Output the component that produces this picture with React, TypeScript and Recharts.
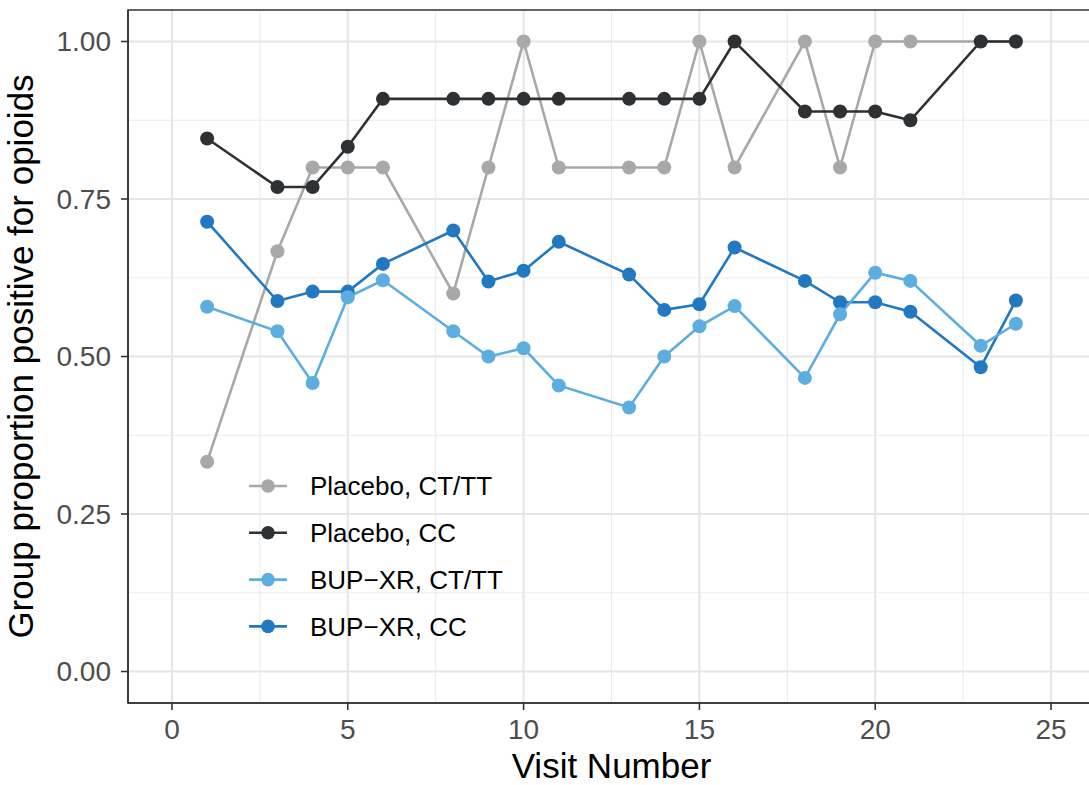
import React from 'react';
import { LineChart, Line, XAxis, YAxis, CartesianGrid, Legend, ReferenceArea, Label } from 'recharts';

const visits = [1, 3, 4, 5, 6, 8, 9, 10, 11, 13, 14, 15, 16, 18, 19, 20, 21, 23, 24];
const placeboCtTt = [0.333, 0.667, 0.8, 0.8, 0.8, 0.6, 0.8, 1, 0.8, 0.8, 0.8, 1, 0.8, 1, 0.8, 1, 1, null, 1];
const placeboCc = [0.846, 0.769, 0.769, 0.833, 0.909, 0.909, 0.909, 0.909, 0.909, 0.909, 0.909, 0.909, 1, 0.889, 0.889, 0.889, 0.875, 1, 1];
const bupCtTt = [0.579, 0.54, 0.458, 0.594, 0.621, 0.54, 0.5, 0.513, 0.454, 0.419, 0.5, 0.548, 0.58, 0.466, 0.567, 0.633, 0.62, 0.517, 0.552];
const bupCc = [0.714, 0.588, 0.603, 0.603, 0.647, 0.7, 0.619, 0.636, 0.682, 0.63, 0.574, 0.583, 0.673, 0.62, 0.586, 0.586, 0.571, 0.483, 0.589];

const xTicks = [0, 5, 10, 15, 20, 25];
const xMinor = [2.5, 7.5, 12.5, 17.5, 22.5];
const yTicks = [0, 0.25, 0.5, 0.75, 1];
const yMinor = [0.125, 0.375, 0.625, 0.875];

const series = [
  { key: 'pCtTt', name: 'Placebo, CT/TT', color: '#A6A8A9', values: placeboCtTt },
  { key: 'pCc', name: 'Placebo, CC', color: '#2D3134', values: placeboCc },
  { key: 'bCtTt', name: 'BUP\u2212XR, CT/TT', color: '#5DAEE0', values: bupCtTt },
  { key: 'bCc', name: 'BUP\u2212XR, CC', color: '#2279C2', values: bupCc },
];

const data = visits.map((v, i) => {
  const row: any = { visit: v };
  series.forEach((s) => {
    row[s.key] = s.values[i];
  });
  return row;
});

const drawOrder = ['pCtTt', 'pCc', 'bCc', 'bCtTt'];

const FONT = '"Liberation Sans", Arial, Helvetica, sans-serif';

const LegendContent = () => (
  <svg width={320} height={190} style={{ fontFamily: FONT, overflow: 'visible' }}>
    {series.map((s, i) => {
      const cy = 21 + i * 46.8;
      return (
        <g key={s.key}>
          <line x1={9} x2={47} y1={cy} y2={cy} stroke={s.color} strokeWidth={2.6} />
          <circle cx={28} cy={cy} r={6.8} fill={s.color} />
          <text x={70} y={cy} dy="0.35em" fontSize={26} fill="#000">
            {s.name}
          </text>
        </g>
      );
    })}
  </svg>
);

export default function App() {
  return (
    <div style={{ position: 'absolute', left: 0, top: 0, width: 1089, height: 785, overflow: 'hidden', background: '#fff' }}>
      <LineChart
        width={1100}
        height={785}
        data={data}
        margin={{ top: 10, right: 5, bottom: 0, left: 0 }}
        style={{ fontFamily: FONT }}
      >
        <CartesianGrid
          horizontalValues={yMinor}
          verticalValues={xMinor}
          stroke="#EBEBEB"
          strokeWidth={1.1}
        />
        <CartesianGrid
          horizontalValues={yTicks}
          verticalValues={xTicks}
          stroke="#E6E6E6"
          strokeWidth={2.2}
        />
        <XAxis
          dataKey="visit"
          type="number"
          domain={[-1.25, 26.25]}
          ticks={xTicks}
          allowDataOverflow
          height={82}
          tickSize={7}
          tickMargin={9}
          axisLine={{ stroke: '#333333', strokeWidth: 1.6 }}
          tickLine={{ stroke: '#333333', strokeWidth: 1.6 }}
          tick={{ fill: '#4D4D4D', fontSize: 28, fontFamily: FONT }}
        >
          <Label
            value="Visit Number"
            position="insideBottom"
            offset={7}
            style={{ fontSize: 35, fill: '#000', fontFamily: FONT }}
          />
        </XAxis>
        <YAxis
          type="number"
          domain={[-0.05, 1.05]}
          ticks={yTicks}
          allowDataOverflow
          width={128}
          tickSize={7}
          tickMargin={10}
          tickFormatter={(v: number) => v.toFixed(2)}
          axisLine={{ stroke: '#333333', strokeWidth: 1.6 }}
          tickLine={{ stroke: '#333333', strokeWidth: 1.6 }}
          tick={{ fill: '#4D4D4D', fontSize: 28, fontFamily: FONT }}
        >
          <Label
            content={(props: any) => {
              const vb = props.viewBox || { x: 0, y: 10, width: 128, height: 693 };
              const cx = vb.x + 33;
              const cy = vb.y + vb.height / 2;
              return (
                <text
                  x={cx}
                  y={cy}
                  transform={`rotate(-90 ${cx} ${cy})`}
                  textAnchor="middle"
                  fontSize={35}
                  fill="#000"
                  fontFamily={FONT}
                >
                  Group proportion positive for opioids
                </text>
              );
            }}
          />
        </YAxis>
        <ReferenceArea
          x1={-1.25}
          x2={26.25}
          y1={-0.05}
          y2={1.05}
          fill="none"
          fillOpacity={0}
          stroke="#333333"
          strokeWidth={1.6}
        />
        {drawOrder.map((k) => {
          const s = series.find((x) => x.key === k)!;
          return (
            <Line
              key={s.key}
              dataKey={s.key}
              name={s.name}
              type="linear"
              stroke={s.color}
              strokeWidth={2.6}
              connectNulls
              dot={{ r: 7, fill: s.color, stroke: 'none', strokeWidth: 0 }}
              activeDot={false}
              isAnimationActive={false}
            />
          );
        })}
        <Legend
          layout="vertical"
          align="center"
          verticalAlign="middle"
          content={<LegendContent />}
          wrapperStyle={{ left: 240, top: 465, width: 320, height: 190 }}
        />
      </LineChart>
    </div>
  );
}
